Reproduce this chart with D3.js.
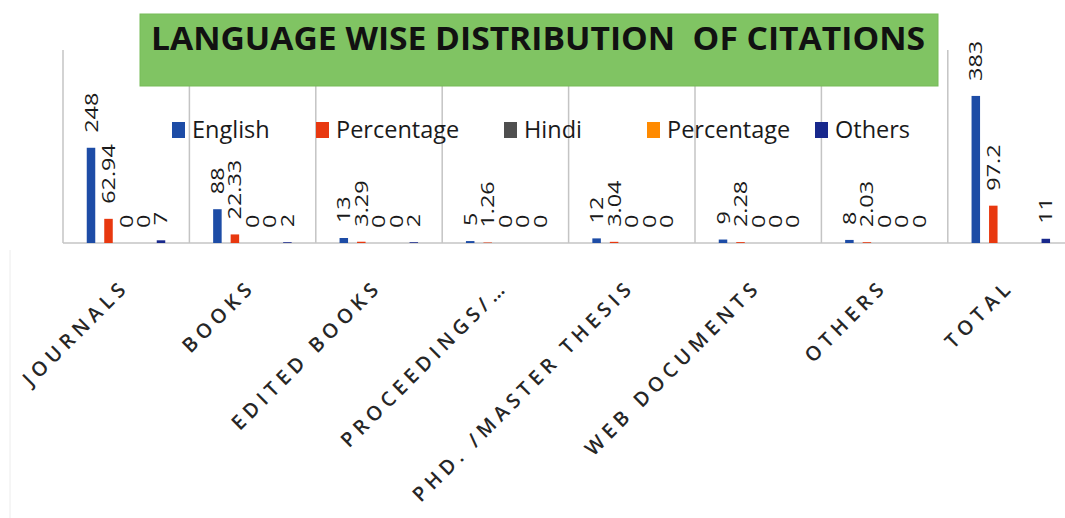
<!DOCTYPE html>
<html>
<head>
<meta charset="utf-8">
<script src="https://cdn.jsdelivr.net/npm/d3@7"></script>
<style>
body { margin: 0; background: #fff; }
svg { display: block; }
</style>
</head>
<body>
<div id="root"></div>
<script>
// chart data
const categories = ["JOURNALS", "BOOKS", "EDITED BOOKS", "PROCEEDINGS/…", "PHD. /MASTER THESIS", "WEB DOCUMENTS", "OTHERS", "TOTAL"];
const seriesNames = ["English", "Percentage", "Hindi", "Percentage", "Others"];
const english = [248, 88, 13, 5, 12, 9, 8, 383];
const englishPct = [62.94, 22.33, 3.29, 1.26, 3.04, 2.28, 2.03, 97.2];
const hindi = [0, 0, 0, 0, 0, 0, 0, null];
const hindiPct = [0, 0, 0, 0, 0, 0, 0, null];
const others = [7, 2, 2, 0, 0, 0, 0, 11];
const titleText = "LANGUAGE WISE DISTRIBUTION  OF CITATIONS";

const colors = ["#1d4ca6", "#e8380f", "#4f4f4f", "#ff8a00", "#18288c"];
const series = [english, englishPct, hindi, hindiPct, others];

const w = 1065, h = 518;
const margin = {top: 51, left: 63, bottom: 243};

const svg = d3.select("#root").append("svg")
    .attr("width", w)
    .attr("height", h);

// scales
const x0 = d3.scaleBand()
    .domain(categories)
    .range([margin.left, margin.left + 8 * 126.4]);
const x1 = d3.scaleBand()
    .domain(d3.range(seriesNames.length))
    .range([23.75, 102.25])
    .paddingInner(0.514);
const y = d3.scaleLinear()
    .domain([0, 500])
    .range([margin.bottom, margin.top]);

// faint chart border on the left
svg.append("line")
    .attr("x1", 10).attr("x2", 10)
    .attr("y1", 250).attr("y2", h)
    .attr("stroke", "#ececec").attr("stroke-width", 1);

// category separators
svg.append("g")
    .selectAll("line")
    .data(categories)
    .enter()
    .append("line")
    .attr("x1", d => x0(d)).attr("x2", d => x0(d))
    .attr("y1", y(500) - 1).attr("y2", y(0))
    .attr("stroke", "#c4c4c4")
    .attr("stroke-width", 1.5);

// bottom axis line
svg.append("line")
    .attr("x1", margin.left).attr("x2", w)
    .attr("y1", y(0)).attr("y2", y(0))
    .attr("stroke", "#c4c4c4")
    .attr("stroke-width", 1.5);

// bars
const groups = svg.append("g")
    .selectAll("g")
    .data(categories)
    .enter()
    .append("g")
    .attr("transform", d => "translate(" + x0(d) + ",0)");

groups.selectAll("rect")
    .data((d, i) => series.map((s, k) => ({k: k, v: s[i]})))
    .enter()
    .append("rect")
    .attr("x", d => x1(d.k))
    .attr("y", d => y(d.v || 0))
    .attr("width", x1.bandwidth())
    .attr("height", d => y(0) - y(d.v || 0))
    .attr("fill", d => colors[d.k]);

// data labels
groups.selectAll("text")
    .data((d, i) => series.map((s, k) => ({k: k, v: s[i]})).filter(d => d.v !== null))
    .enter()
    .append("text")
    .attr("transform", d => "translate(" + (x1(d.k) + x1.bandwidth() / 2 + 6.5) + "," + (y(d.v) - 15) + ") rotate(-90) scale(1.3,1)")
    .attr("font-family", "'Open Sans', sans-serif")
    .attr("font-size", 18)
    .attr("fill", "#1a1a1a")
    .text(d => d.v);

// category axis
const xAxis = d3.axisBottom(x0).tickSize(0);
const gx = svg.append("g")
    .attr("transform", "translate(0," + y(0) + ")")
    .call(xAxis);
gx.select(".domain").remove();
gx.selectAll("text")
    .attr("x", 0).attr("y", 0).attr("dy", 0)
    .attr("transform", "translate(4,45) rotate(-45)")
    .attr("text-anchor", "end")
    .attr("font-family", "'Open Sans', sans-serif")
    .attr("font-weight", 600)
    .attr("font-size", 20)
    .attr("letter-spacing", 5)
    .attr("fill", "#262626");

// title box
svg.append("rect")
    .attr("x", 140).attr("y", 14)
    .attr("width", 798).attr("height", 72)
    .attr("fill", "#80c463")
    .attr("stroke", "#76bb58")
    .attr("stroke-width", 1);
svg.append("text")
    .attr("x", 151).attr("y", 50)
    .attr("font-family", "'Open Sans', sans-serif")
    .attr("font-weight", 700)
    .attr("font-size", 32)
    .attr("fill", "#111")
    .style("white-space", "pre")
    .attr("textLength", 774)
    .attr("lengthAdjust", "spacingAndGlyphs")
    .text(titleText);

// legend
const legendX = [172, 316, 504, 647, 815];
const legend = svg.append("g").attr("id", "legend");
const items = legend.selectAll("g")
    .data(seriesNames)
    .enter()
    .append("g")
    .attr("transform", (d, i) => "translate(" + legendX[i] + ",122)");
items.append("rect")
    .attr("width", 13).attr("height", 16)
    .attr("fill", (d, i) => colors[i]);
items.append("text")
    .attr("x", 20).attr("y", 16)
    .attr("font-family", "'Open Sans', sans-serif")
    .attr("font-size", 23.5)
    .attr("fill", "#1a1a1a")
    .text(d => d);
</script>
</body>
</html>
